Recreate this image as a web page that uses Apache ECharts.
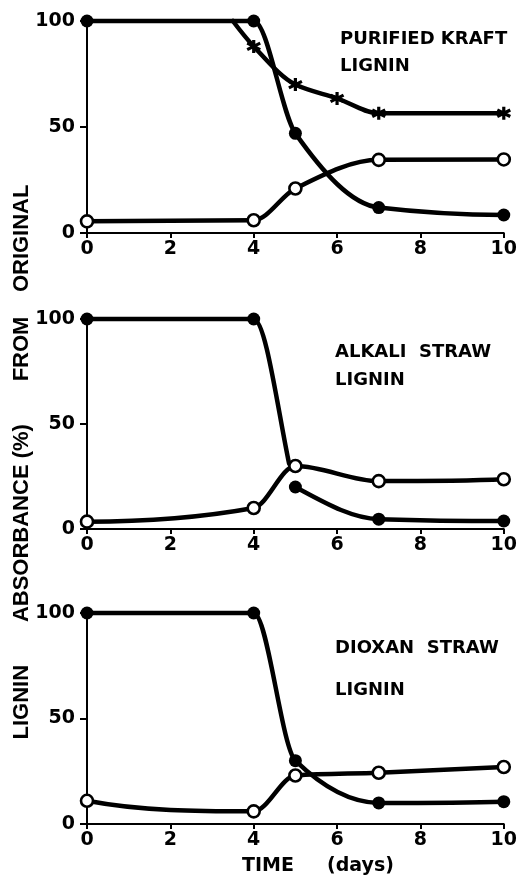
<!DOCTYPE html>
<html><head><meta charset="utf-8">
<script src="https://cdn.jsdelivr.net/npm/echarts@6/dist/echarts.min.js"></script>
<style>html,body{margin:0;padding:0;background:#fff}#c{width:520px;height:876px}</style>
</head><body><div id="c"></div>
<script>
const xTicks = [0, 2, 4, 6, 8, 10];
const yTicks = [0, 50, 100];
const panelTitles = [["PURIFIED KRAFT", "LIGNIN"], ["ALKALI  STRAW", "LIGNIN"], ["DIOXAN  STRAW", "LIGNIN"]];
const yTitle = "LIGNIN       ABSORBANCE (%)       FROM    ORIGINAL";
const xTitle = "TIME     (days)";

// Panel 1: purified kraft lignin
const p1Filled = [[0, 100], [4, 100], [5, 47], [7, 12], [10, 8.5]];
const p1Star = [[3.5, 100], [4, 88], [5, 70], [6, 63.5], [7, 56.5], [10, 56.5]];
const p1Open = [[0, 5.5], [4, 6], [5, 21], [7, 34.5], [10, 34.7]];
// Panel 2: alkali straw lignin
const p2FilledA = [[0, 100], [4, 100], [4.85, 31]];
const p2FilledB = [[5, 20], [7, 4.7], [10, 3.8]];
const p2Open = [[0, 3.5], [4, 10], [5, 30], [7, 22.8], [10, 23.7]];
// Panel 3: dioxan straw lignin
const p3Filled = [[0, 100], [4, 100], [5, 30], [7, 10], [10, 10.6]];
const p3Open = [[0, 11], [4, 6], [5, 23], [7, 24.3], [10, 27]];

const TICKFONT = 'DejaVu Sans';
const grids = [
  {left: 87, right: 13, top: 21, height: 212},
  {left: 87, right: 13, top: 319, height: 210},
  {left: 87, right: 13, top: 613, height: 211}
];
const lblStyle = {color: '#000', fontFamily: TICKFONT, fontWeight: 'bold', fontSize: 19};
const xAxes = grids.map((g, i) => ({
  type: 'value', gridIndex: i, min: 0, max: 10, interval: 2,
  axisLine: {lineStyle: {color: '#000', width: 2}},
  axisTick: {show: true, length: 5, lineStyle: {color: '#000', width: 2}},
  axisLabel: Object.assign({margin: 7, formatter: v => xTicks.includes(v) ? String(v) : ''}, lblStyle),
  splitLine: {show: false}
}));
const yAxes = grids.map((g, i) => ({
  type: 'value', gridIndex: i, min: 0, max: 100, interval: 50,
  axisLine: {show: true, lineStyle: {color: '#000', width: 2}},
  axisTick: {show: true, length: 7, lineStyle: {color: '#000', width: 2}},
  axisLabel: Object.assign({margin: 12, formatter: v => yTicks.includes(v) ? String(v) : ''}, lblStyle),
  splitLine: {show: false}
}));

// monotone cubic (PCHIP) tangents
function endTangent(h0, h1, d0, d1) {
  let m = ((2 * h0 + h1) * d0 - h0 * d1) / (h0 + h1);
  if (Math.sign(m) !== Math.sign(d0)) m = 0;
  else if (Math.sign(d0) !== Math.sign(d1) && Math.abs(m) > Math.abs(3 * d0)) m = 3 * d0;
  return m;
}
function pchip(p) {
  const n = p.length, h = [], d = [], m = new Array(n).fill(0);
  for (let k = 0; k < n - 1; k++) { h[k] = p[k + 1][0] - p[k][0]; d[k] = (p[k + 1][1] - p[k][1]) / h[k]; }
  if (n === 2) return [d[0], d[0]];
  for (let k = 1; k < n - 1; k++) {
    if (d[k - 1] * d[k] > 0) {
      const w1 = 2 * h[k] + h[k - 1], w2 = h[k] + 2 * h[k - 1];
      m[k] = (w1 + w2) / (w1 / d[k - 1] + w2 / d[k]);
    }
  }
  m[0] = endTangent(h[0], h[1], d[0], d[1]);
  m[n - 1] = endTangent(h[n - 2], h[n - 3], d[n - 2], d[n - 3]);
  return m;
}
function curve(pts, idx) {
  const m = pchip(pts);
  return {
    type: 'custom', xAxisIndex: idx, yAxisIndex: idx, data: pts, clip: false, z: 2, silent: true,
    renderItem: function (params, api) {
      const i = params.dataIndex;
      if (i >= pts.length - 1) return null;
      const [x0, y0] = pts[i], [x1, y1] = pts[i + 1], h = x1 - x0;
      const a = api.coord([x0, y0]), b = api.coord([x1, y1]);
      const c1 = api.coord([x0 + h / 3, y0 + m[i] * h / 3]);
      const c2 = api.coord([x1 - h / 3, y1 - m[i + 1] * h / 3]);
      return {type: 'bezierCurve',
        shape: {x1: a[0], y1: a[1], x2: b[0], y2: b[1], cpx1: c1[0], cpy1: c1[1], cpx2: c2[0], cpy2: c2[1]},
        style: {stroke: '#000', lineWidth: 4.5, fill: null, lineCap: 'round'}};
    }
  };
}
const starPath = 'path://M5,0L5,10M0.7,2.5L9.3,7.5M0.7,7.5L9.3,2.5';
function marks(pts, idx, kind, hide) {
  const data = pts.map((p, k) => (hide && hide.includes(k)) ? {value: p, symbol: 'none'} : p);
  const s = {type: 'scatter', xAxisIndex: idx, yAxisIndex: idx, data: data, clip: false, silent: true};
  if (kind === 'filled') {
    Object.assign(s, {symbol: 'circle', symbolSize: 13, z: 3, itemStyle: {color: '#000', opacity: 1}});
  } else if (kind === 'open') {
    Object.assign(s, {symbol: 'circle', symbolSize: 12, z: 4, itemStyle: {color: '#fff', borderColor: '#000', borderWidth: 2.6, opacity: 1}});
  } else {
    Object.assign(s, {symbol: starPath, symbolSize: 13, z: 3, itemStyle: {color: '#000', borderColor: '#000', borderWidth: 3.2, opacity: 1}});
  }
  return s;
}

const series = [
  curve(p1Filled, 0), curve(p1Star, 0), curve(p1Open, 0),
  marks(p1Filled, 0, 'filled'), marks(p1Star, 0, 'star', [0]), marks(p1Open, 0, 'open'),
  curve(p2FilledA, 1), curve(p2FilledB, 1), curve(p2Open, 1),
  marks(p2FilledA, 1, 'filled', [2]), marks(p2FilledB, 1, 'filled'), marks(p2Open, 1, 'open'),
  curve(p3Filled, 2), curve(p3Open, 2),
  marks(p3Filled, 2, 'filled'), marks(p3Open, 2, 'open')
];

const titleFont = 'bold 18px "DejaVu Sans"';
const graphics = [];
const titlePos = [[340, 39, 66], [335, 352, 380], [335, 648, 690]];
panelTitles.forEach((t, i) => {
  graphics.push({type: 'text', x: titlePos[i][0], y: titlePos[i][1], style: {text: t[0], font: titleFont, fill: '#000', textVerticalAlign: 'middle'}});
  graphics.push({type: 'text', x: titlePos[i][0], y: titlePos[i][2], style: {text: t[1], font: titleFont, fill: '#000', textVerticalAlign: 'middle'}});
});
graphics.push({type: 'text', x: 22, y: 462, rotation: Math.PI / 2,
  style: {text: yTitle, font: 'bold 22px "Liberation Sans"', fill: '#000', textAlign: 'center', textVerticalAlign: 'middle'}});
graphics.push({type: 'text', x: 318, y: 866,
  style: {text: xTitle, font: 'bold 19px "DejaVu Sans"', fill: '#000', textAlign: 'center', textVerticalAlign: 'middle'}});

const chart = echarts.init(document.getElementById('c'), null, {renderer: 'canvas'});
chart.setOption({
  animation: false,
  backgroundColor: '#fff',
  grid: grids,
  xAxis: xAxes,
  yAxis: yAxes,
  series: series,
  graphic: graphics
});
</script></body></html>
